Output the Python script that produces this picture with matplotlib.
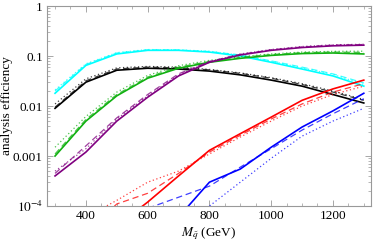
#Analysis efficiency vs squark mass for several signal regions
import matplotlib.pyplot as plt
from matplotlib.ticker import FixedLocator, FixedFormatter, NullFormatter

plt.rcParams['font.family'] = ['Liberation Serif', 'DejaVu Serif']
plt.rcParams['mathtext.fontset'] = 'stix'

Masses = [300, 400, 500, 600, 700, 800, 900, 1000, 1100, 1200, 1300]

CyanSolid = [0.018, 0.065, 0.11, 0.13, 0.13, 0.12, 0.1, 0.075, 0.055, 0.04, 0.025]
CyanDash = [0.02, 0.068, 0.115, 0.133, 0.132, 0.123, 0.105, 0.08, 0.06, 0.044, 0.029]
CyanDot = [0.021, 0.07, 0.117, 0.135, 0.133, 0.125, 0.104, 0.079, 0.058, 0.043, 0.027]

BlackSolid = [0.009, 0.03, 0.052, 0.057, 0.055, 0.05, 0.042, 0.033, 0.025, 0.017, 0.0115]
BlackDash = [0.0095, 0.032, 0.055, 0.06, 0.058, 0.053, 0.045, 0.036, 0.027, 0.019, 0.013]
BlackDot = [0.011, 0.035, 0.058, 0.062, 0.06, 0.054, 0.046, 0.037, 0.028, 0.02, 0.0135]

GreenSolid = [0.001, 0.005, 0.016, 0.036, 0.057, 0.075, 0.09, 0.103, 0.112, 0.115, 0.11]
GreenDash = [0.0011, 0.0054, 0.017, 0.038, 0.06, 0.078, 0.094, 0.107, 0.117, 0.12, 0.118]
GreenDot = [0.0015, 0.0062, 0.019, 0.041, 0.064, 0.082, 0.097, 0.11, 0.12, 0.124, 0.125]

PurpleSolid = [0.0004, 0.0012, 0.005, 0.015, 0.04, 0.075, 0.105, 0.13, 0.148, 0.16, 0.165]
PurpleDash = [0.00045, 0.0016, 0.0058, 0.017, 0.044, 0.078, 0.108, 0.133, 0.152, 0.165, 0.17]
PurpleDot = [0.0005, 0.0014, 0.0055, 0.016, 0.042, 0.077, 0.11, 0.135, 0.155, 0.168, 0.172]

RedSolid = [3e-6, 1e-5, 4e-5, 1.2e-4, 4e-4, 0.0013, 0.0028, 0.006, 0.013, 0.022, 0.033]
RedDash = [3e-6, 3e-5, 1.1e-4, 1.8e-4, 4.5e-4, 0.0012, 0.0026, 0.0055, 0.011, 0.019, 0.028]
RedDot = [5e-6, 6e-5, 1.3e-4, 3e-4, 5e-4, 0.0011, 0.0024, 0.005, 0.01, 0.017, 0.025]

BlueSolid = [1e-7, 1e-6, 5e-6, 2e-5, 6e-5, 3e-4, 5.5e-4, 0.0015, 0.0038, 0.008, 0.018]
BlueDash = [1e-7, 1e-6, 3e-5, 9e-5, 1.5e-4, 2.5e-4, 6e-4, 0.0014, 0.0033, 0.007, 0.014]
BlueDot = [1e-7, 1e-6, 3e-6, 8e-6, 2e-5, 1e-4, 3e-4, 9e-4, 0.0025, 0.005, 0.009]

YTicks = [1e-4, 1e-3, 1e-2, 1e-1, 1]
YLabels = ['$10^{-4}$', '0.001', '0.01', '0.1', '1']
XTicks = [400, 600, 800, 1000, 1200]


def PlotSet(ax, Solid, Dash, Dot, color):

	ax.plot(Masses, Dot, color=color, linestyle=(0, (1, 2)), linewidth=0.9, alpha=0.75)
	ax.plot(Masses, Dash, color=color, linestyle=(0, (5, 3)), linewidth=0.9, alpha=0.75)
	ax.plot(Masses, Solid, color=color, linewidth=1.2)


fig = plt.figure(figsize=(3.74, 2.41), dpi=100)
ax = fig.add_axes([0.1257, 0.145, 0.866, 0.830])

PlotSet(ax, CyanSolid, CyanDash, CyanDot, '#00ffff')
PlotSet(ax, BlackSolid, BlackDash, BlackDot, 'black')
PlotSet(ax, GreenSolid, GreenDash, GreenDot, '#10b010')
PlotSet(ax, PurpleSolid, PurpleDash, PurpleDot, '#800080')
PlotSet(ax, RedSolid, RedDash, RedDot, '#ff0000')
PlotSet(ax, BlueSolid, BlueDash, BlueDot, '#0000ff')

ax.set_yscale('log')
ax.set_xlim(274, 1323)
ax.set_ylim(1e-4, 1)

ax.yaxis.set_major_locator(FixedLocator(YTicks))
ax.yaxis.set_major_formatter(FixedFormatter(YLabels))
ax.yaxis.set_minor_formatter(NullFormatter())
ax.xaxis.set_major_locator(FixedLocator(XTicks))
ax.xaxis.set_minor_locator(FixedLocator(range(300, 1320, 50)))

for side in ax.spines.values():
	side.set_color('#999999')
	side.set_linewidth(0.8)
ax.tick_params(which='both', direction='in', top=True, right=True, color='#999999', labelsize=9.5, pad=3)
ax.tick_params(which='major', length=4, width=0.6)
ax.tick_params(which='minor', length=2, width=0.5)

ax.set_ylabel('analysis efficiency', fontsize=9.5)
ax.yaxis.set_label_coords(-0.104, 0.5)
ax.set_xlabel(r'$M_{\tilde{q}}$ (GeV)', fontsize=9.5, labelpad=2)

plt.savefig('out.png', dpi=100)
plt.close()
